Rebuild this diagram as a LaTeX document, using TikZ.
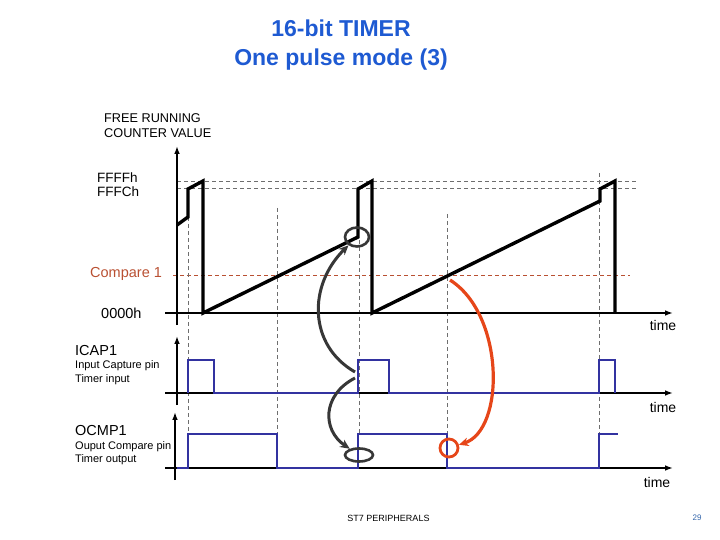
\documentclass[tikz,border=0pt]{standalone}
\usepackage{fontspec}
\setmainfont{Liberation Sans}
\usetikzlibrary{arrows.meta,shapes.geometric}
\definecolor{tc}{RGB}{30,90,210}
\definecolor{sc}{RGB}{50,50,160}
\definecolor{cc}{RGB}{185,80,50}
\definecolor{ac}{RGB}{230,70,25}
\definecolor{gc}{RGB}{110,110,110}
\definecolor{kc}{RGB}{55,55,55}
\definecolor{pc}{RGB}{50,100,170}
\tikzset{ax/.style={line width=2pt,-{Latex[length=2.8mm,width=2mm]}},
 cnt/.style={line width=3.4pt,line join=miter},
 sig/.style={draw=sc,line width=2.8pt},
 guide/.style={draw=gc,line width=.8pt,dash pattern=on 4pt off 3pt},
 lbl/.style={font=\fontsize{14.5}{14}\selectfont,inner sep=0pt,anchor=west,align=left},
 sml/.style={lbl,font=\fontsize{11}{14}\selectfont},
 tm/.style={font=\fontsize{14}{14}\selectfont,inner sep=0pt},
 ring/.style={draw=kc,line width=2.6pt,ellipse,inner sep=0pt},
 dot/.style={draw=ac,line width=2.8pt,circle,inner sep=0pt,minimum size=18pt},
 curarr/.style={draw=kc,line width=3pt,-{Stealth[length=3.4mm,width=3mm]}},
 redarr/.style={curarr,draw=ac,line width=3.2pt}}

\begin{document}
\begin{tikzpicture}[x=1pt,y=-1pt]
\useasboundingbox (0,0) rectangle (720,540);
\node[font=\fontsize{23}{29}\selectfont\bfseries,text=tc,align=center] (title) at (341,45) {16-bit TIMER\\One pulse mode (3)};
% guides
\draw[guide] (177,181)--(637,181);\draw[guide] (177,188)--(637,188);
\draw[guide,draw=cc] (173,275)--(630,275);
\foreach \x/\y in {188/217,277/208,359/240,447/214,599/173} \draw[guide] (\x,\y)--(\x,434);
% axes
\draw[ax] (177,325)--(177,146);\draw[ax] (165,313)--(673,313);
\draw[ax] (177,405)--(177,336);\draw[ax] (165,393)--(673,393);
\draw[ax] (175,480)--(175,412);\draw[ax] (165,468)--(673,468);
% counter
\draw[cnt] (177,225)--(188,217)--(188,189)--(203,181)--(203,313)--(358,237)--(358,189)--(372,181)--(372,313)--(600,201)--(600,189)--(615,181)--(615,313);
% pins
\draw[sig] (188,393)--(188,360)--(214,360)--(214,393)--(358,393)--(358,360)--(389,360)--(389,393)--(599,393)--(599,360)--(615,360)--(615,393);
\draw[sig] (177,468)--(188,468)--(188,434)--(277,434)--(277,468)--(358,468)--(358,434)--(447,434)--(447,468)--(599,468)--(599,434)--(618,434);
% marks
\node[ring,minimum width=24pt,minimum height=19pt] (e1) at (357,237) {};
\node[ring,minimum width=28pt,minimum height=13pt] (e2) at (359,455) {};
\node[dot] (e3) at (449,448) {};
\coordinate (p1) at (355,372);\coordinate (p2) at (355,378);\coordinate (p3) at (450,280);
\draw[curarr] (p1) .. controls (308,345) and (308,285) .. (e1);
\draw[curarr] (p2) .. controls (322,395) and (322,430) .. (e2);
\draw[redarr] (p3) .. controls (505,315) and (505,430) .. (e3);
% labels
\node[lbl,font=\fontsize{12.7}{15}\selectfont] (frc) at (104,125.5) {FREE RUNNING\\COUNTER VALUE};
\node[lbl,font=\fontsize{13.5}{14}\selectfont] (fff) at (97,184.5) {FFFFh\\FFFCh};
\node[lbl,text=cc] (cmp) at (90,274) {Compare 1};
\node[lbl] (zero) at (101,313) {0000h};
\node[lbl] (icap) at (75,351) {ICAP1};
\node[sml] (icapd) at (75,373) {Input Capture pin\\Timer input};
\node[lbl] (ocmp) at (75,431) {OCMP1};
\node[sml,font=\fontsize{11}{12.5}\selectfont] (ocmpd) at (75,453) {Ouput Compare pin\\Timer output};
\node[tm] (t1) at (663,325) {time};
\node[tm] (t2) at (663,407) {time};
\node[tm] (t3) at (657,482) {time};
\node[font=\fontsize{9}{10}\selectfont] (foot) at (388.5,518) {ST7 PERIPHERALS};
\node[font=\fontsize{8}{10}\selectfont,text=pc] (pg) at (697,518) {29};
\end{tikzpicture}
\end{document}
